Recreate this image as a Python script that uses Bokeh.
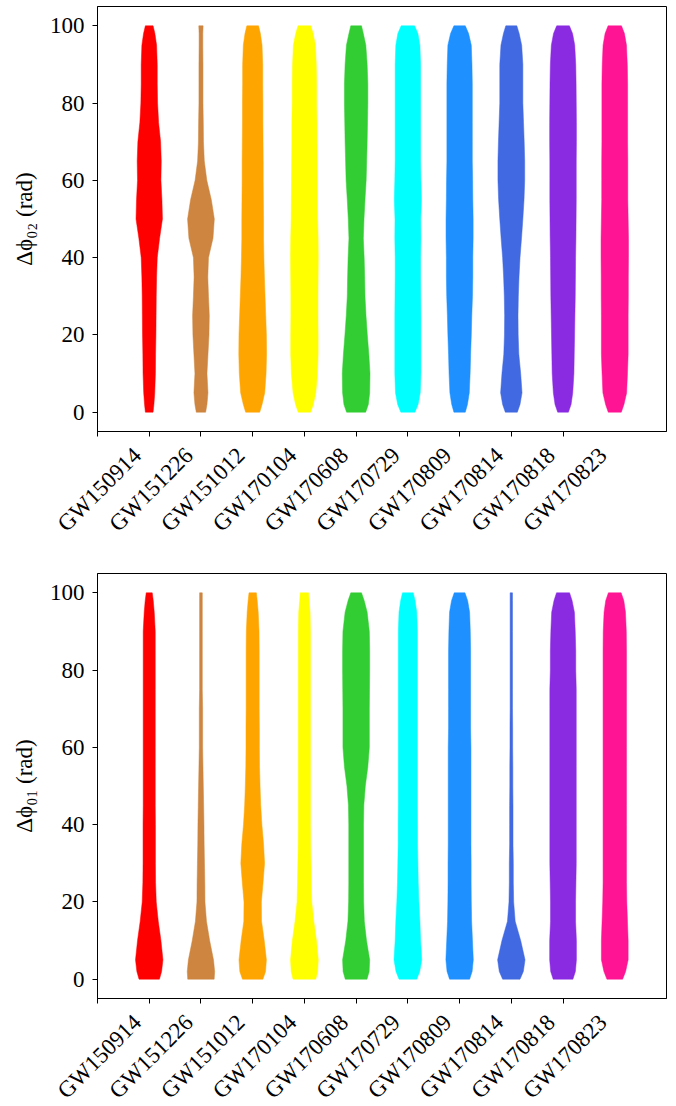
import math
from bokeh.plotting import figure
from bokeh.models import Range1d, FixedTicker, ColumnDataSource
from bokeh.layouts import column
from bokeh.embed import file_html
from bokeh.resources import INLINE

# ---------------- data ----------------
events = ["GW150914", "GW151226", "GW151012", "GW170104", "GW170608",
          "GW170729", "GW170809", "GW170814", "GW170818", "GW170823"]
colors = ["#FF0000", "#CD853F", "#FFA500", "#FFFF00", "#32CD32",
          "#00FFFF", "#1E90FF", "#4169E1", "#8A2BE2", "#FF1493"]

# sample levels (rad) at which the violin density profile was read
y_levels = [0, 2, 5, 10, 15, 20, 25, 30, 35, 40, 45, 50, 55, 60, 65, 70, 75,
            80, 85, 90, 95, 98, 100]

# relative KDE density (max ~82) for delta phi_02
d02_GW150914 = [23, 28, 33, 37, 38, 40, 41, 42, 44, 48, 62, 79, 76, 70, 72, 68, 56, 50, 48, 48, 44, 34, 23]
d02_GW151226 = [28, 36, 42, 36, 42, 48, 50, 45, 41, 45, 72, 80, 62, 35, 20, 15, 14, 12, 12, 12, 11, 11, 13]
d02_GW151012 = [42, 56, 72, 80, 83, 82, 78, 74, 70, 67, 65, 65, 64, 63, 63, 62, 61, 61, 60, 60, 56, 46, 35]
d02_GW170104 = [37, 53, 68, 78, 82, 82, 81, 81, 82, 83, 82, 79, 78, 77, 76, 75, 75, 73, 73, 71, 66, 52, 38]
d02_GW170608 = [57, 73, 81, 83, 76, 67, 59, 53, 51, 48, 43, 47, 53, 60, 63, 66, 68, 70, 70, 66, 58, 43, 32]
d02_GW170729 = [42, 61, 74, 78, 78, 78, 78, 77, 76, 76, 78, 77, 81, 78, 76, 76, 76, 76, 76, 76, 72, 60, 40]
d02_GW170809 = [34, 47, 58, 63, 66, 70, 73, 77, 79, 79, 81, 81, 79, 78, 76, 76, 76, 76, 76, 74, 70, 54, 34]
d02_GW170814 = [36, 52, 64, 56, 45, 41, 40, 42, 46, 52, 61, 69, 76, 80, 80, 77, 73, 69, 69, 69, 62, 47, 33]
d02_GW170818 = [32, 48, 58, 65, 67, 69, 71, 73, 74, 75, 77, 78, 79, 79, 79, 80, 80, 79, 78, 76, 70, 57, 38]
d02_GW170823 = [39, 55, 71, 76, 80, 80, 80, 81, 81, 82, 82, 80, 78, 78, 78, 77, 77, 77, 77, 75, 70, 58, 40]

# relative KDE density for delta phi_01
d01_GW150914 = [61, 74, 82, 70, 54, 42, 38, 37, 37, 37, 36, 36, 36, 36, 36, 36, 36, 36, 36, 36, 30, 24, 18]
d01_GW151226 = [79, 82, 75, 52, 33, 24, 23, 21, 19, 18, 16, 14, 12, 10, 10, 10, 8, 8, 8, 8, 8, 8, 8]
d01_GW151012 = [61, 77, 82, 69, 53, 52, 62, 71, 65, 55, 48, 44, 41, 40, 40, 39, 39, 39, 39, 38, 33, 27, 22]
d01_GW170104 = [68, 79, 83, 72, 56, 44, 41, 39, 37, 36, 36, 36, 36, 36, 36, 36, 36, 36, 36, 36, 34, 28, 25]
d01_GW170608 = [65, 78, 81, 62, 49, 45, 44, 44, 44, 44, 46, 55, 70, 79, 79, 79, 80, 81, 81, 79, 66, 48, 32]
d01_GW170729 = [53, 71, 83, 76, 72, 66, 62, 60, 58, 58, 57, 57, 57, 57, 57, 57, 57, 57, 57, 57, 53, 43, 32]
d01_GW170809 = [60, 75, 82, 77, 72, 70, 69, 69, 68, 68, 68, 68, 68, 68, 66, 66, 66, 66, 66, 64, 60, 48, 32]
d01_GW170814 = [52, 72, 82, 56, 23, 14, 12, 12, 10, 10, 10, 9, 9, 8, 8, 7, 7, 7, 7, 7, 7, 7, 7]
d01_GW170818 = [59, 74, 80, 80, 75, 75, 77, 79, 79, 79, 79, 79, 79, 79, 79, 79, 79, 76, 76, 73, 68, 54, 39]
d01_GW170823 = [47, 65, 80, 80, 76, 72, 70, 70, 70, 70, 70, 70, 70, 70, 70, 70, 70, 70, 70, 69, 64, 54, 38]

dens02 = [d02_GW150914, d02_GW151226, d02_GW151012, d02_GW170104, d02_GW170608,
          d02_GW170729, d02_GW170809, d02_GW170814, d02_GW170818, d02_GW170823]
dens01 = [d01_GW150914, d01_GW151226, d01_GW151012, d01_GW170104, d01_GW170608,
          d01_GW170729, d01_GW170809, d01_GW170814, d01_GW170818, d01_GW170823]

x_ticks = list(range(10))          # tick positions of the event labels
y_ticks = [0, 20, 40, 60, 80, 100]

# ---------------- style ----------------
FONT = "Liberation Serif"
DENS_MAX = 82.0
HALF_W = 0.265        # half width (x units) of the widest violin part
LABEL_SHIFT = 0.77    # rotated labels are right-anchored: shift so they look centred


def make_fig(densities, ylabel, border_top, border_bottom):
    p = figure(frame_width=569, frame_height=425,
               x_range=Range1d(0, 11), y_range=Range1d(-5, 105),
               output_backend="svg", toolbar_location=None,
               min_border_left=97, min_border_right=8,
               min_border_top=border_top, min_border_bottom=border_bottom,
               background_fill_color="white", border_fill_color="white")
    xs, ys = [], []
    for i, dens in enumerate(densities):
        c = i + 1
        right = [c + d / DENS_MAX * HALF_W for d in dens]
        left = [c - d / DENS_MAX * HALF_W for d in dens]
        xs.append(right + left[::-1])
        ys.append(list(y_levels) + list(y_levels)[::-1])
    src = ColumnDataSource(dict(xs=xs, ys=ys, color=colors))
    p.patches("xs", "ys", source=src, fill_color="color", line_color="color",
              line_width=0.5)

    p.xgrid.visible = False
    p.ygrid.visible = False
    p.outline_line_color = "black"
    p.outline_line_width = 1
    p.outline_line_alpha = 1

    # x axis: tick marks drawn as minor ticks at the true positions,
    # labels as (invisible-tick) major ticks shifted to look centred
    label_pos = [round(t + LABEL_SHIFT, 2) for t in x_ticks]
    xa = p.xaxis[0]
    xa.ticker = FixedTicker(ticks=label_pos, minor_ticks=x_ticks)
    xa.major_label_overrides = {lp: ev for lp, ev in zip(label_pos, events)}
    xa.major_label_orientation = math.pi / 4
    xa.major_tick_out = 0
    xa.major_tick_in = 0
    xa.minor_tick_out = 5
    xa.minor_tick_in = 0
    xa.axis_line_color = "black"
    xa.minor_tick_line_color = "black"
    xa.major_label_text_font = FONT
    xa.major_label_text_font_size = "23px"
    xa.major_label_text_color = "black"
    xa.major_label_standoff = 15

    ya = p.yaxis[0]
    ya.ticker = FixedTicker(ticks=y_ticks)
    ya.major_tick_out = 5
    ya.major_tick_in = 0
    ya.minor_tick_out = 0
    ya.minor_tick_in = 0
    ya.axis_line_color = "black"
    ya.major_tick_line_color = "black"
    ya.major_label_text_font = FONT
    ya.major_label_text_font_size = "23px"
    ya.major_label_text_color = "black"
    ya.major_label_standoff = 8
    ya.axis_label = ylabel
    ya.axis_label_text_font = FONT
    ya.axis_label_text_font_size = "23px"
    ya.axis_label_text_font_style = "normal"
    ya.axis_label_text_color = "black"
    ya.axis_label_standoff = 10
    return p


p1 = make_fig(dens02, "Δϕ₀₂ (rad)", 6, 136)
p2 = make_fig(dens01, "Δϕ₀₁ (rad)", 6, 100)

layout = column(p1, p2, spacing=0)
open("out.html", "w").write(file_html(layout, INLINE))
